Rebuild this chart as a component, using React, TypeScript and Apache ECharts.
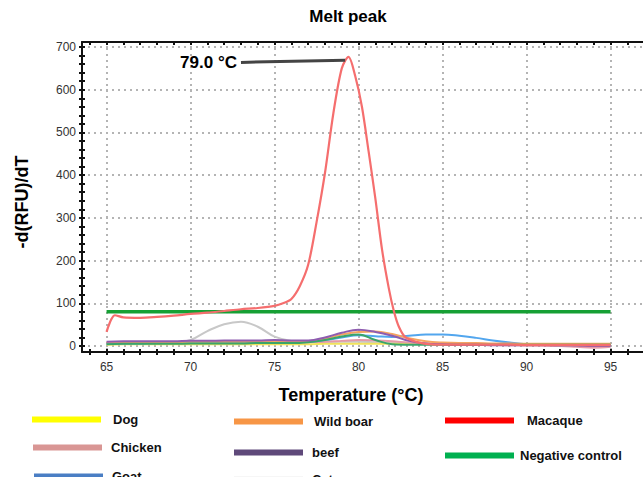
import React, { useEffect, useRef } from 'react';
import * as echarts from 'echarts';

// ---- data ----
const lowT = [65, 66, 67, 68, 69, 70, 71, 72, 73, 74, 75, 76, 77, 78, 79, 80, 81, 82, 83, 84, 85, 86, 87, 88, 89, 90, 91, 92, 93, 94, 95];
const dogV = [3, 4, 4, 4, 4, 4, 4, 4, 4, 4, 4, 4, 4, 5, 5, 5, 5, 5, 5, 5, 4, 4, 4, 4, 4, 3, 3, 3, 3, 3, 3];
const chickenV = [6, 7, 7, 7, 7, 7, 8, 8, 8, 8, 8, 8, 9, 10, 12, 14, 13, 11, 8, 6, 5, 4, 3, 3, 2, 2, 1, 0, -2, -4, -2];
const goatV = [5, 6, 6, 7, 7, 8, 8, 9, 9, 10, 10, 10, 10, 14, 20, 25, 23, 21, 24, 27, 27, 24, 19, 13, 8, 4, 3, 2, 2, 2, 2];
const wildBoarV = [8, 9, 9, 9, 9, 10, 10, 10, 10, 10, 10, 10, 11, 17, 27, 33, 34, 28, 18, 11, 8, 7, 7, 6, 6, 5, 5, 5, 5, 5, 5];
const beefV = [10, 11, 11, 11, 11, 12, 12, 13, 13, 13, 14, 13, 13, 20, 31, 38, 33, 24, 12, 6, 4, 3, 3, 2, 2, 2, 2, 2, 1, 0, 0];
const catV = [5, 6, 6, 7, 7, 14, 35, 51, 57, 45, 22, 12, 10, 10, 10, 10, 9, 8, 6, 5, 5, 4, 4, 4, 4, 3, 3, 3, 3, 3, 3];
const otherV = [4, 5, 5, 5, 5, 6, 6, 6, 6, 7, 7, 7, 9, 14, 22, 27, 14, 4, 3, 3, 3, 3, 3, 3, 3, 3, 3, 3, 3, 3, 3];
const macaqueT = [65, 65.5, 66, 67, 68, 69, 70, 71, 72, 73, 74, 75, 75.5, 76, 76.5, 77, 77.5, 78, 78.5, 79, 79.4, 79.8, 80.2, 80.6, 81, 81.4, 81.8, 82.1, 82.4, 82.8, 83.5, 84, 85, 86, 87, 88, 89, 90, 91, 92, 93, 94, 95];
const macaqueV = [33, 72, 67, 66, 68, 71, 75, 78, 82, 86, 89, 94, 100, 110, 140, 190, 290, 405, 545, 650, 677, 632, 560, 455, 345, 225, 135, 82, 45, 20, 9, 5, 3, 3, 3, 3, 3, 2, 2, 2, 2, 2, 2];
const negT = [65, 70, 75, 80, 85, 90, 95];
const negV = [80, 80, 80, 80, 80, 80, 80];

const xLabelValues = [65, 70, 75, 80, 85, 90, 95];
const xTickValues = [64, 65, 66, 67, 68, 69, 70, 71, 72, 73, 74, 75, 76, 77, 78, 79, 80, 81, 82, 83, 84, 85, 86, 87, 88, 89, 90, 91, 92, 93, 94, 95, 96];
const yLabelValues = [0, 100, 200, 300, 400, 500, 600, 700];
const yTickValues = [0, 20, 40, 60, 80, 100, 120, 140, 160, 180, 200, 220, 240, 260, 280, 300, 320, 340, 360, 380, 400, 420, 440, 460, 480, 500, 520, 540, 560, 580, 600, 620, 640, 660, 680, 700];

const peakLabel = '79.0 °C';
const peakStart = [73.0, 664];
const peakEnd = [79.2, 669];

// ---- layout ----
const FONT = "'Liberation Sans', Arial, sans-serif";
const pxPerDeg = (620 - 107) / 30;
const xMin = 65 - (107 - 82) / pxPerDeg;
const xMax = xMin + (653 - 82) / pxPerDeg;
const pxPerUnit = (346 - 47) / 700;
const yMin = -(352 - 346) / pxPerUnit;
const yMax = 700 + (47 - 42) / pxPerUnit;

const pair = (xs: number[], ys: number[]) => xs.map((x, i) => [x, ys[i]]);

export default function App() {
  const ref = useRef<HTMLDivElement>(null);
  useEffect(() => {
    const chart = echarts.init(ref.current!, null, { renderer: 'svg' });
    const axisLineStyle = { color: '#111', width: 2 };
    const dotted = { type: [2, 4] as any, color: '#b4b4b4', width: 2 };
    const lineSeries = (name: string, data: number[][], legendColor: string, lineColor: string, width = 2, z = 2) => ({
      name,
      type: 'line',
      data,
      smooth: 0.4,
      showSymbol: false,
      symbol: 'none',
      z,
      itemStyle: { color: legendColor },
      lineStyle: { color: lineColor, width },
    });
    const legendItem = (name: string, left: number, center: number, gap: number) => ({
      data: [name],
      left,
      top: center - 8,
      padding: 0,
      itemWidth: 69,
      itemHeight: 6,
      icon: 'rect',
      selectedMode: false,
      textStyle: { fontSize: 13, fontWeight: 'bold', color: '#111', fontFamily: FONT, padding: [0, 0, 0, gap] },
    });
    const option: any = {
      animation: false,
      backgroundColor: '#fff',
      grid: { left: 82, top: 42, right: -10, bottom: 125, containLabel: false },
      xAxis: [
        {
          type: 'value', min: xMin, max: xMax, position: 'bottom',
          axisLine: { show: true, onZero: false, lineStyle: axisLineStyle },
          axisTick: { show: true, customValues: xTickValues, length: 3, lineStyle: { color: '#111', width: 2 } },
          axisLabel: { customValues: xLabelValues, margin: 9, fontSize: 12, color: '#333', fontFamily: FONT },
          splitLine: { show: false },
        },
        {
          type: 'value', min: xMin, max: xMax, position: 'top',
          axisLine: { show: true, onZero: false, lineStyle: axisLineStyle },
          axisTick: { show: true, inside: true, customValues: xTickValues, length: 3, lineStyle: { color: '#111', width: 2 } },
          axisLabel: { show: false },
          splitLine: { show: false },
        },
        {
          type: 'value', min: xMin, max: xMax, position: 'bottom',
          axisLine: { show: false, onZero: false },
          axisTick: { show: false, customValues: xLabelValues },
          axisLabel: { show: false },
          splitLine: { show: true, lineStyle: dotted },
        },
        {
          type: 'value', min: xMin, max: xMax, position: 'bottom',
          axisLine: { show: false, onZero: false },
          axisTick: { show: true, inside: true, customValues: xTickValues, length: 3, lineStyle: { color: '#111', width: 2 } },
          axisLabel: { show: false },
          splitLine: { show: false },
        },
      ],
      yAxis: [
        {
          type: 'value', min: yMin, max: yMax, position: 'left',
          axisLine: { show: true, onZero: false, lineStyle: axisLineStyle },
          axisTick: { show: true, customValues: yTickValues, length: 3, lineStyle: { color: '#111', width: 2 } },
          axisLabel: { customValues: yLabelValues, margin: 6, fontSize: 12, color: '#333', fontFamily: FONT },
          splitLine: { show: false },
        },
        {
          type: 'value', min: yMin, max: yMax, position: 'left',
          axisLine: { show: false, onZero: false },
          axisTick: { show: false, customValues: yLabelValues },
          axisLabel: { show: false },
          splitLine: { show: true, lineStyle: dotted },
        },
        {
          type: 'value', min: yMin, max: yMax, position: 'left',
          axisLine: { show: false, onZero: false },
          axisTick: { show: true, inside: true, customValues: yTickValues, length: 3, lineStyle: { color: '#111', width: 2 } },
          axisLabel: { show: false },
          splitLine: { show: false },
        },
      ],
      legend: [
        legendItem('Dog', 32, 421, 7),
        legendItem('Chicken', 33, 449, 4),
        legendItem('Goat', 34, 478, 4),
        legendItem('Wild boar', 234, 423, 6),
        legendItem('beef', 234, 454, 4),
        legendItem('Cat', 234, 481, 4),
        legendItem('Macaque', 445, 422, 8),
        legendItem('Negative control', 445, 457, 1),
      ],
      series: [
        lineSeries('Cat', pair(lowT, catV), '#eeeeee', '#c8c8c8'),
        lineSeries('Dog', pair(lowT, dogV), '#ffff00', '#f2e35a'),
        lineSeries('Chicken', pair(lowT, chickenV), '#d99694', '#e69aa8'),
        lineSeries('Goat', pair(lowT, goatV), '#4a7ec4', '#52a6ee'),
        lineSeries('Wild boar', pair(lowT, wildBoarV), '#f79646', '#f5a461'),
        lineSeries('Series 9', pair(lowT, otherV), '#2e9e6e', '#3aa56a'),
        lineSeries('beef', pair(lowT, beefV), '#5f497a', '#8e5cb0'),
        lineSeries('Negative control', pair(negT, negV), '#00b050', '#16a034', 3.5, 3),
        {
          ...lineSeries('Macaque', pair(macaqueT, macaqueV), '#ff0000', '#f56e6e', 2.2, 4),
          smooth: 0.3,
          markLine: {
            silent: true,
            animation: false,
            symbol: ['none', 'arrow'],
            symbolSize: [0, 14],
            lineStyle: { color: '#444', width: 3, type: 'solid' },
            label: {
              show: true, position: 'start', distance: 4, formatter: peakLabel,
              fontSize: 17, fontWeight: 'bold', color: '#000', fontFamily: FONT,
            },
            data: [[{ coord: peakStart }, { coord: peakEnd }]],
          },
        },
      ],
      graphic: [
        {
          type: 'text', x: 348, y: 16,
          style: { text: 'Melt peak', fill: '#000', fontSize: 17, fontWeight: 'bold', fontFamily: FONT, align: 'center', verticalAlign: 'middle', textAlign: 'center', textVerticalAlign: 'middle' },
        },
        {
          type: 'text', x: 351, y: 395,
          style: { text: 'Temperature (°C)', fill: '#000', fontSize: 18, fontWeight: 'bold', fontFamily: FONT, align: 'center', verticalAlign: 'middle', textAlign: 'center', textVerticalAlign: 'middle' },
        },
        {
          type: 'text', x: 22, y: 202, rotation: Math.PI / 2,
          style: { text: '-d(RFU)/dT', fill: '#000', fontSize: 18, fontWeight: 'bold', fontFamily: FONT, align: 'center', verticalAlign: 'middle', textAlign: 'center', textVerticalAlign: 'middle' },
        },
      ],
    };
    chart.setOption(option);
    return () => chart.dispose();
  }, []);
  return <div ref={ref} style={{ position: 'fixed', left: 0, top: 0, width: 643, height: 477, background: '#fff' }} />;
}
